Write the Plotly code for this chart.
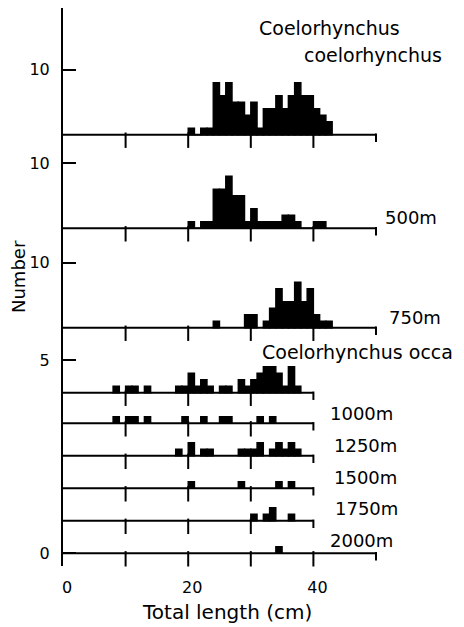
import plotly.graph_objects as go

# ---------------- data (1 cm length classes: class start in cm, number of fish) ----------------
cc_all_len = [20, 21, 22, 23, 24, 25, 26, 27, 28, 29, 30, 31, 32, 33, 34, 35, 36, 37, 38, 39, 40, 41, 42]
cc_all_n   = [1, 0, 1, 1, 8, 6, 8, 5, 5, 3, 5, 1, 4, 4, 6, 4, 6, 8, 6, 6, 4, 3, 2]

cc_500_len = [20, 21, 22, 23, 24, 25, 26, 27, 28, 29, 30, 31, 32, 33, 34, 35, 36, 37, 38, 39, 40, 41]
cc_500_n   = [1, 0, 1, 1, 6, 6, 8, 5, 5, 1, 3, 1, 1, 1, 1, 2, 2, 1, 0, 0, 1, 1]

cc_750_len = [24, 29, 30, 32, 33, 34, 35, 36, 37, 38, 39, 40, 41, 42]
cc_750_n   = [1, 2, 2, 1, 3, 6, 4, 4, 7, 4, 6, 2, 1, 1]

occa_all_len = [8, 10, 11, 13, 18, 19, 20, 21, 22, 23, 25, 26, 28, 29, 30, 31, 32, 33, 34, 35, 36, 37]
occa_all_n   = [1, 1, 1, 1, 1, 1, 3, 1, 2, 1, 1, 1, 2, 1, 2, 3, 4, 4, 3, 1, 4, 1]

occa_1000_len = [8, 10, 11, 13, 19, 22, 25, 26, 31, 33]
occa_1000_n   = [1, 1, 1, 1, 1, 1, 1, 1, 1, 1]

occa_1250_len = [18, 20, 22, 23, 28, 29, 30, 31, 33, 34, 35, 36, 37]
occa_1250_n   = [1, 2, 1, 1, 1, 1, 1, 2, 1, 2, 1, 2, 1]

occa_1500_len = [20, 28, 34, 36]
occa_1500_n   = [1, 1, 1, 1]

occa_1750_len = [30, 32, 33, 36]
occa_1750_n   = [1, 1, 2, 1]

occa_2000_len = [34]
occa_2000_n   = [1]

x_tick_labels = ["0", "20", "40"]
x_tick_vals = [0, 20, 40]

# ---------------- layout geometry (page pixels; the page body has an 8 px margin) ----------------
PAGE_W, PAGE_H = 464, 627
BODY = 8
XL, XS = 63, 6.26          # page pixel of 0 cm, pixels per cm
PX0, S = 553.3, 6.5        # page pixel of count 0 (bottom panel), pixels per fish
TOP_PX, BOT_PX = 8, 566
PLOT_W = PAGE_W - XL
PLOT_H = BOT_PX - TOP_PX

def Y(py):
    return (PX0 - py) / S

def PXP(px):
    return (px - XL) / PLOT_W

def PYP(py):
    return (BOT_PX - py) / PLOT_H

# panel stacking: (lengths, counts, baseline offset, axis length in cm)
panels = [
    (cc_all_len, cc_all_n, 64.4, 50),
    (cc_500_len, cc_500_n, 50.0, 50),
    (cc_750_len, cc_750_n, 34.7, 50),
    (occa_all_len, occa_all_n, 24.7, 40),
    (occa_1000_len, occa_1000_n, 20.0, 40),
    (occa_1250_len, occa_1250_n, 15.0, 40),
    (occa_1500_len, occa_1500_n, 10.0, 40),
    (occa_1750_len, occa_1750_n, 5.0, 40),
    (occa_2000_len, occa_2000_n, 0.0, 50),
]

fig = go.Figure()
TICK_IN = 11      # px
TICK_END = 6      # px
for lens, ns, off, L in panels:
    fig.add_trace(go.Bar(
        x=lens, y=ns, base=off, width=1, offset=0,
        marker=dict(color="black", line=dict(color="black", width=1.4)),
        showlegend=False, hoverinfo="skip"))
    # panel baseline
    fig.add_trace(go.Scatter(x=[0, L], y=[off, off], mode="lines",
                             line=dict(color="black", width=2),
                             showlegend=False, hoverinfo="skip", cliponaxis=False))
    # downward ticks drawn as vertical-line markers centred below the baseline
    tx = list(range(10, L + 1, 10))
    inner = [t for t in tx if t != L]
    fig.add_trace(go.Scatter(x=inner, y=[off - TICK_IN / 2 / S] * len(inner), mode="markers",
                             marker=dict(symbol="line-ns-open", size=TICK_IN, color="black",
                                         line=dict(color="black", width=2)),
                             showlegend=False, hoverinfo="skip", cliponaxis=False))
    fig.add_trace(go.Scatter(x=[L], y=[off - TICK_END / 2 / S], mode="markers",
                             marker=dict(symbol="line-ns-open", size=TICK_END, color="black",
                                         line=dict(color="black", width=2)),
                             showlegend=False, hoverinfo="skip", cliponaxis=False))

y_tick_vals = [0.0 + 0, 24.7 + 5, 34.7 + 10, 50.0 + 10, 64.4 + 10]
y_tick_text = ["0", "5", "10", "10", "10"]

FONT = "DejaVu Sans"
labels = [
    ("Coelorhynchus", 257, 28, 19),
    ("coelorhynchus", 302, 55, 19),
    ("500m", 383, 217, 18),
    ("750m", 387, 317, 18),
    ("Coelorhynchus occa", 260, 352, 19),
    ("1000m", 328, 413, 18),
    ("1250m", 332, 445, 18),
    ("1500m", 332, 477, 18),
    ("1750m", 333, 508, 18),
    ("2000m", 328, 540, 18),
]
annotations = [dict(text=t, x=PXP(px), y=PYP(py), xref="paper", yref="paper",
                    xanchor="left", yanchor="middle", showarrow=False,
                    font=dict(family=FONT, size=fs, color="black"))
               for t, px, py, fs in labels]
annotations.append(dict(text="Number", x=PXP(18), y=PYP(277), xref="paper", yref="paper",
                        textangle=-90, showarrow=False, xanchor="center", yanchor="middle",
                        font=dict(family=FONT, size=18, color="black")))
annotations.append(dict(text="Total length (cm)", x=PXP(227), y=PYP(612), xref="paper", yref="paper",
                        showarrow=False, xanchor="center", yanchor="middle",
                        font=dict(family=FONT, size=20, color="black")))

fig.update_layout(
    width=PAGE_W - BODY, height=PAGE_H - BODY,
    margin=dict(l=XL - BODY, r=0, t=TOP_PX - BODY, b=PAGE_H - BOT_PX, pad=0),
    paper_bgcolor="white", plot_bgcolor="white",
    barmode="overlay",
    annotations=annotations,
    xaxis=dict(range=[0, PLOT_W / XS], showgrid=False, zeroline=False, showline=False,
               tickmode="array", tickvals=x_tick_vals, ticktext=x_tick_labels, ticks="",
               ticklabelstandoff=10, ticklabelshift=4,
               tickfont=dict(family=FONT, size=16, color="black")),
    yaxis=dict(range=[Y(BOT_PX), Y(TOP_PX)], showgrid=False, zeroline=False,
               showline=True, linewidth=2, linecolor="black",
               ticks="inside", ticklen=13, tickwidth=2, tickcolor="black",
               tickmode="array", tickvals=y_tick_vals, ticktext=y_tick_text,
               ticklabelstandoff=8,
               tickfont=dict(family=FONT, size=16, color="black")),
)

fig.write_html("out.html")
